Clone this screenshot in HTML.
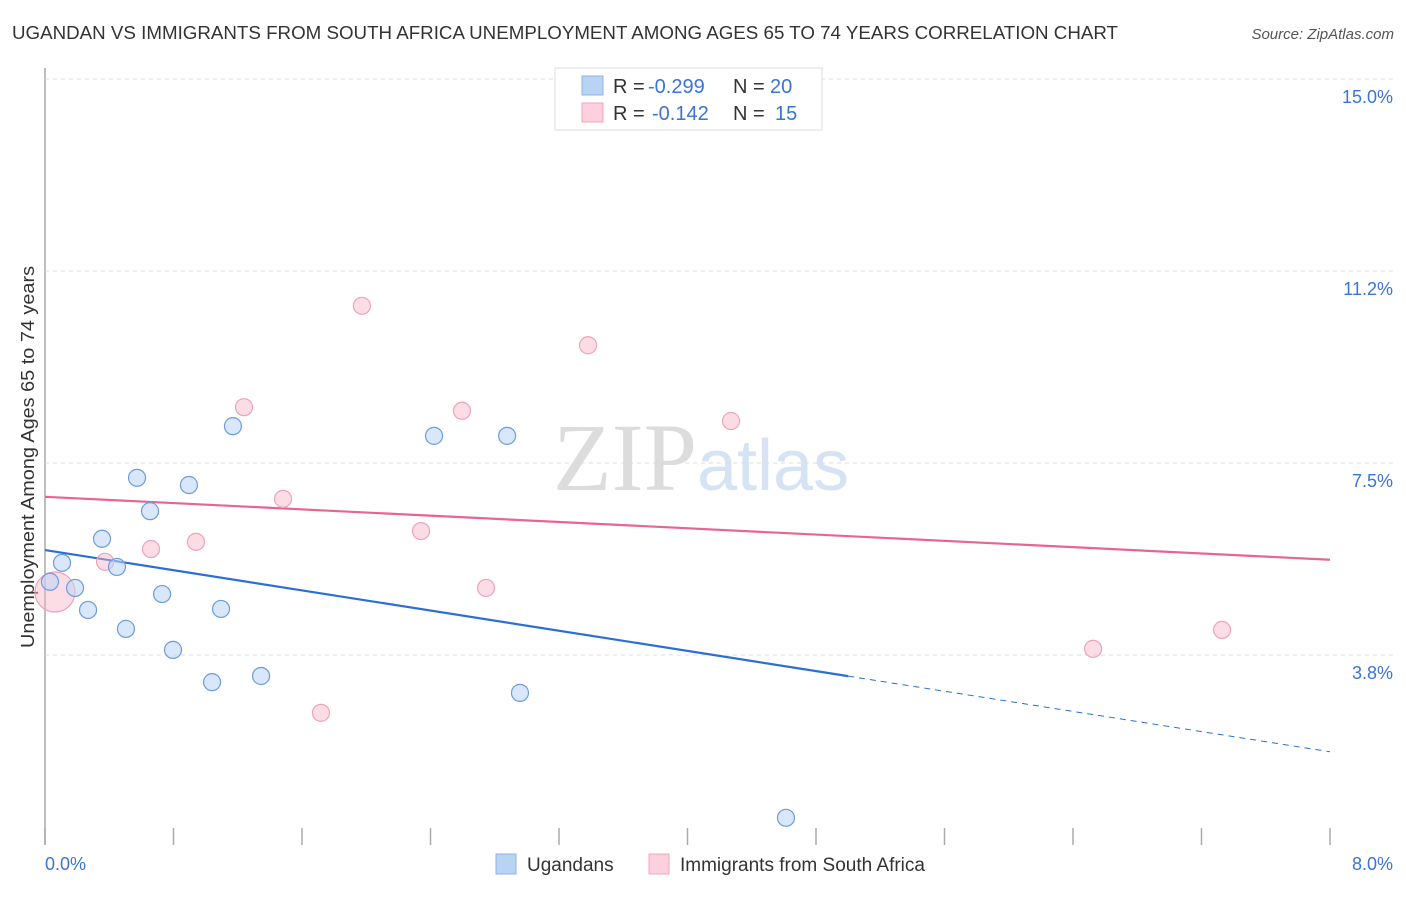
<!DOCTYPE html>
<html><head><meta charset="utf-8"><style>
body{margin:0;background:#fff;font-family:"Liberation Sans",sans-serif;}
svg text{font-family:"Liberation Sans",sans-serif;}
</style></head><body>
<svg id="chart" width="1406" height="892" xmlns="http://www.w3.org/2000/svg">
<text x="12" y="39" font-size="18" fill="#333" textLength="1106" lengthAdjust="spacingAndGlyphs">UGANDAN VS IMMIGRANTS FROM SOUTH AFRICA UNEMPLOYMENT AMONG AGES 65 TO 74 YEARS CORRELATION CHART</text>
<text x="1394" y="39" font-size="15" fill="#555" text-anchor="end" font-style="italic">Source: ZipAtlas.com</text>
<text x="553" y="490" font-size="96"><tspan fill="#dcdcdc" font-family="Liberation Serif">ZIP</tspan><tspan fill="#d6e3f5" font-size="72">atlas</tspan></text>
<text transform="translate(34,457) rotate(-90)" font-size="18" fill="#333" text-anchor="middle" textLength="382" lengthAdjust="spacingAndGlyphs">Unemployment Among Ages 65 to 74 years</text>
<g id="grid"></g><g id="lines"></g><g id="pts"></g>
<g>
<rect x="555" y="68" width="267" height="62" fill="#fff" stroke="#ddd"/>
<rect x="582" y="76" width="21" height="19" fill="#b9d3f5" stroke="#8db3e8"/>
<rect x="582" y="103" width="21" height="19" fill="#fcd0dc" stroke="#f0a5bb"/>
<text x="613" y="93" font-size="20" fill="#333">R =</text>
<text x="648" y="93" font-size="20" fill="#3a74d4">-0.299</text>
<text x="733" y="93" font-size="20" fill="#333">N =</text>
<text x="770" y="93" font-size="20" fill="#3a74d4">20</text>
<text x="613" y="120" font-size="20" fill="#333">R =</text>
<text x="652" y="120" font-size="20" fill="#3a74d4">-0.142</text>
<text x="733" y="120" font-size="20" fill="#333">N =</text>
<text x="775" y="120" font-size="20" fill="#3a74d4">15</text>
</g>
<g>
<rect x="496" y="854" width="20" height="20" fill="#b9d3f5" stroke="#8db3e8"/>
<text x="527" y="871" font-size="19" fill="#333">Ugandans</text>
<rect x="649" y="854" width="20" height="20" fill="#fcd0dc" stroke="#f0a5bb"/>
<text x="680" y="871" font-size="19" fill="#333">Immigrants from South Africa</text>
</g>
</svg>
<script>
const xTicks=[0,0.8,1.6,2.4,3.2,4.0,4.8,5.6,6.4,7.2,8.0];
const yTicks=[3.75,7.5,11.25,15.0];
const yTickLabels=["3.8%","7.5%","11.2%","15.0%"];
const ugX=[0.031,0.106,0.187,0.268,0.355,0.448,0.504,0.573,0.654,0.729,0.797,0.896,1.040,1.096,1.170,1.345,2.422,2.877,2.957,4.613];
const ugY=[5.18,5.55,5.06,4.63,6.02,5.47,4.26,7.21,6.56,4.94,3.85,7.07,3.22,4.65,8.22,3.34,8.03,8.03,3.01,0.57];
const saX=[0.062,0.374,0.660,0.940,1.239,1.482,1.718,1.973,2.341,2.596,2.746,3.381,4.271,6.525,7.328];
const saY=[4.98,5.57,5.82,5.96,8.59,6.80,2.62,10.57,6.17,8.52,5.06,9.80,8.32,3.87,4.24];
const saR=[20,8.5,8.5,8.5,8.5,8.5,8.5,8.5,8.5,8.5,8.5,8.5,8.5,8.5,8.5];
const ugTrend=[5.80,1.86];const saTrend=[6.84,5.61];const ugSolidEnd=5.0;
const NS="http://www.w3.org/2000/svg";
const X=v=>45+v/8*1285, Y=v=>847-v/3.75*192;
function mk(t,a,p){const e=document.createElementNS(NS,t);for(const k in a)e.setAttribute(k,a[k]);p.appendChild(e);return e;}
const g=document.getElementById('grid');
let ax=mk('line',{x1:45,y1:68,x2:45,y2:845,stroke:'#aaa','stroke-width':1.5},g);


yTicks.forEach((t,i)=>{
 let l=mk('line',{x1:45,x2:1393,y1:Y(t),y2:Y(t),stroke:'#ddd','stroke-dasharray':'4,4'},g);
 
 
 let tx=mk('text',{x:1393,y:Y(t)+24,'font-size':18,fill:'#3a74d4','text-anchor':'end'},g);
 tx.textContent=yTickLabels[i];
 
 
});
xTicks.forEach(t=>{
 let l=mk('line',{x1:X(t),x2:X(t),y1:828,y2:845,stroke:'#aaa','stroke-width':1.5},g);
 
 
});
let x0=mk('text',{x:45,y:870,'font-size':18,fill:'#3a74d4'},g);x0.textContent="0.0%";


let x1=mk('text',{x:1393,y:870,'font-size':18,fill:'#3a74d4','text-anchor':'end'},g);x1.textContent="8.0%";


const pg=document.getElementById('pts');
saX.forEach((v,i)=>{
 let c=mk('circle',{cx:X(v),cy:Y(saY[i]),r:saR[i],fill:'rgba(248,180,200,0.45)',stroke:'#eda3b9','stroke-width':1.2},pg);
 
 
});
ugX.forEach((v,i)=>{
 let c=mk('circle',{cx:X(v),cy:Y(ugY[i]),r:8.5,fill:'rgba(185,211,245,0.55)',stroke:'#6d9be0','stroke-width':1.2},pg);
 
 
});
const lg=document.getElementById('lines');
const uy=x=>ugTrend[0]+(ugTrend[1]-ugTrend[0])*x/8;
let l1=mk('line',{x1:X(0),y1:Y(uy(0)),x2:X(ugSolidEnd),y2:Y(uy(ugSolidEnd)),stroke:'#2b6fd6','stroke-width':2.2},lg);


let l2=mk('line',{x1:X(ugSolidEnd),y1:Y(uy(ugSolidEnd)),x2:X(8),y2:Y(uy(8)),stroke:'#2b6fd6','stroke-width':1,'stroke-dasharray':'6,5'},lg);


let l3=mk('line',{x1:X(0),y1:Y(saTrend[0]),x2:X(8),y2:Y(saTrend[1]),stroke:'#e8658f','stroke-width':2.2},lg);


</script>
</body></html>
